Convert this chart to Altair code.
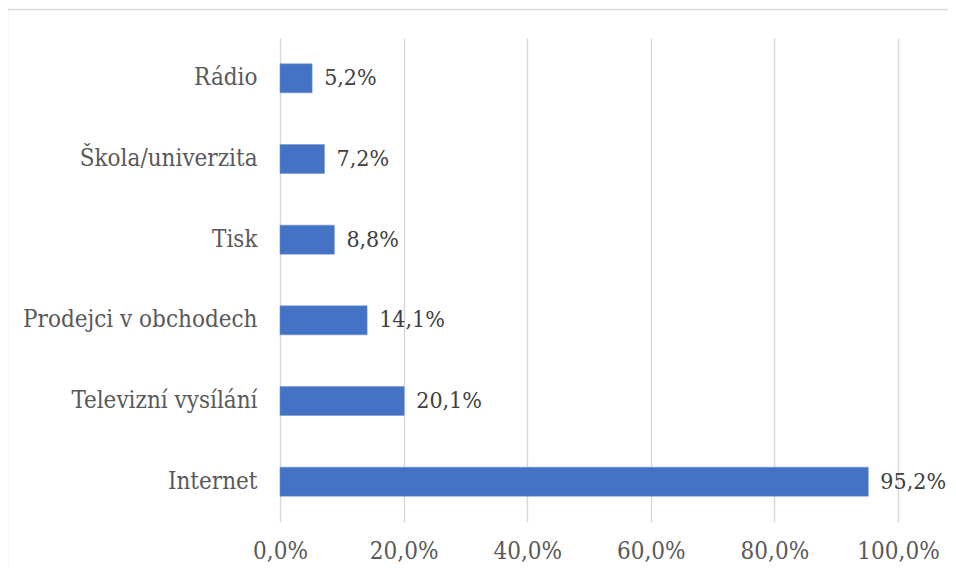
import altair as alt
import pandas as pd

categories = ["Rádio", "Škola/univerzita", "Tisk", "Prodejci v obchodech", "Televizní vysílání", "Internet"]
values = [5.2, 7.2, 8.8, 14.1, 20.1, 95.2]
labels = ["5,2%", "7,2%", "8,8%", "14,1%", "20,1%", "95,2%"]
x_ticks = [0, 20, 40, 60, 80, 100]

df = pd.DataFrame({"cat": categories, "val": values, "lab": labels})

FONT = "DejaVu Serif Condensed"

y_enc = alt.Y("cat:N", sort=categories, title=None,
              scale=alt.Scale(paddingInner=0.64, paddingOuter=0.32),
              axis=alt.Axis(labelFont=FONT, labelFontSize=24, labelColor="#595959",
                            labelPadding=23, labelLimit=0, ticks=False, domain=False, grid=False))
x_enc = alt.X("val:Q", title=None,
              scale=alt.Scale(domain=[0, 100], nice=False),
              axis=alt.Axis(values=x_ticks, labelFont=FONT, labelFontSize=24,
                            labelColor="#595959", labelPadding=17, ticks=False,
                            labelFlush=False, labelOverlap=False,
                            domain=False, grid=True, gridColor="#d9d9d9", gridWidth=1.5,
                            labelExpr="replace(format(datum.value, '.1f'), '.', ',') + '%'"))

one = pd.DataFrame({"a": [0]})
top_line = alt.Chart(one).mark_rule(stroke="#d9d9d9", strokeWidth=1.5).encode(
    x=alt.value(-272.5), x2=alt.value(700), y=alt.value(-28.5))
left_line = alt.Chart(one).mark_rule(stroke="#d9d9d9", strokeWidth=1.5).encode(
    x=alt.value(-272.5), y=alt.value(-28.5), y2=alt.value(600))

bars = alt.Chart(df).mark_bar(color="#4472C4", stroke="#6f93d6", strokeWidth=0.5).encode(
    y=y_enc, x=x_enc)

text = alt.Chart(df).mark_text(align="left", baseline="middle", dx=12, font=FONT,
                               fontSize=23, color="#404040").encode(
    y=alt.Y("cat:N", sort=categories), x="val:Q", text="lab:N")

chart = alt.layer(top_line, left_line, bars, text).properties(
    width=618, height=484,
    autosize=alt.AutoSizeParams(type="none"),
    padding={"left": 272, "top": 30, "right": 50, "bottom": 44},
).configure_view(stroke=None)

chart.save("out.html", embed_options={"renderer": "svg", "actions": False})
